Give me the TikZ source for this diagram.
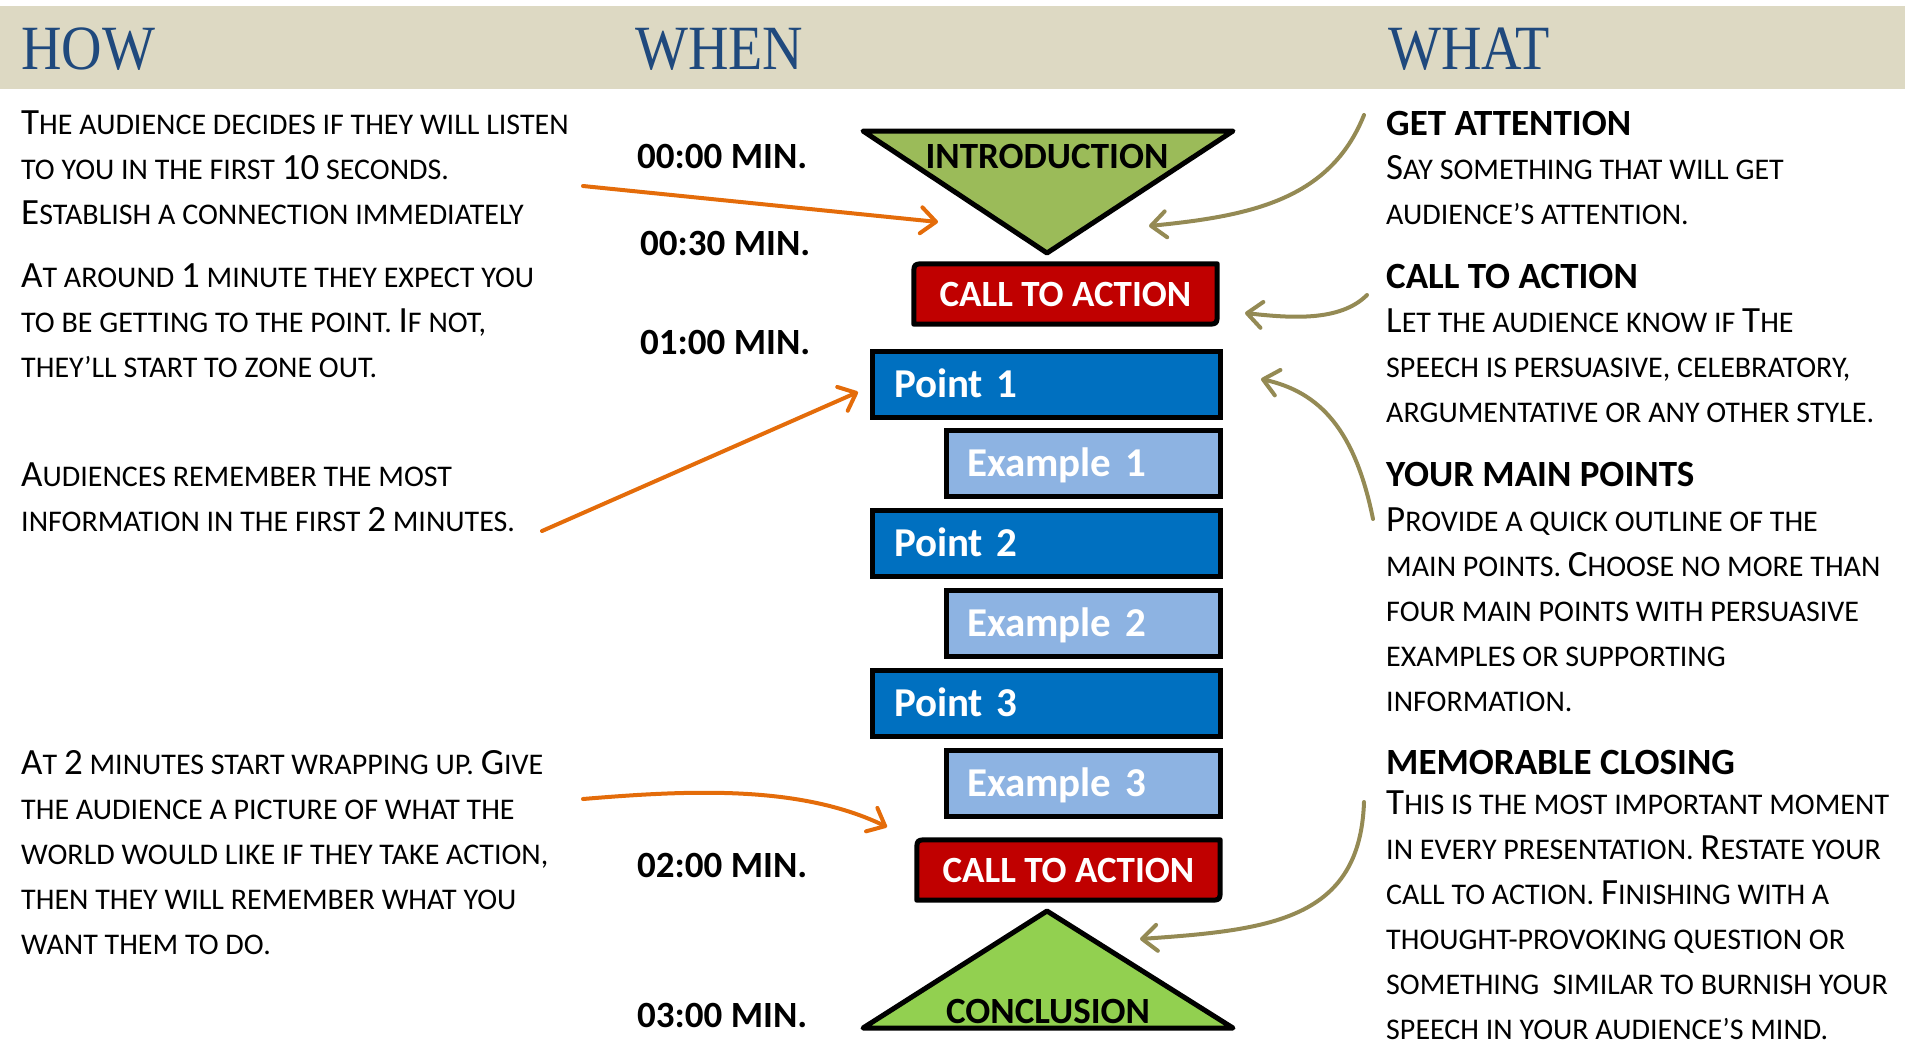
\documentclass[tikz,border=0pt]{standalone}
\usepackage{fontspec}
\setmainfont{Carlito}
\newfontfamily\headfont[FakeStretch=0.89]{Liberation Serif}
\usetikzlibrary{arrows.meta,backgrounds}
\definecolor{band}{HTML}{DDD9C3}
\definecolor{headblue}{HTML}{1F497D}
\definecolor{introgreen}{HTML}{9BBB59}
\definecolor{conclgreen}{HTML}{92D050}
\definecolor{ctared}{HTML}{C00000}
\definecolor{pointblue}{HTML}{0070C0}
\definecolor{exblue}{HTML}{8DB3E2}
\definecolor{arrorange}{HTML}{E46C0A}
\definecolor{arrolive}{HTML}{948A54}
\newcommand\sm[1]{{\fontsize{30}{45}\selectfont #1}}
\begin{document}
\begin{tikzpicture}[x=1pt,y=-1pt,
  head/.style={anchor=base west, inner sep=0pt, text=headblue, font=\headfont\fontsize{63}{70}\selectfont},
  body/.style={anchor=base west, inner sep=0pt, align=left, font=\fontsize{37}{45}\selectfont},
  bhead/.style={anchor=base west, inner sep=0pt, font=\bfseries\fontsize{37}{45}\selectfont},
  timelab/.style={anchor=base west, inner sep=0pt, font=\bfseries\fontsize{37}{45}\selectfont},
  shapeline/.style={draw=black, line width=5pt, line join=round},
  shapetext/.style={anchor=base, inner sep=0pt, font=\bfseries\fontsize{37}{45}\selectfont},
  ctabox/.style={draw=none, minimum width=303pt, minimum height=60pt, inner sep=0pt, text=white,
     text height=24pt, text depth=0pt, font=\bfseries\fontsize{37}{45}\selectfont},
  pointbox/.style={draw=black, line width=5pt, fill=pointblue, minimum height=66pt, text width=304pt,
     inner xsep=22pt, inner ysep=0pt, align=left, text=white, text height=26pt, text depth=0pt,
     font=\bfseries\fontsize{41}{45}\selectfont},
  exbox/.style={pointbox, fill=exblue, text width=232pt, inner xsep=21pt},
  orangearrow/.style={draw=arrorange, line width=4pt, line cap=round,
     -{Straight Barb[length=15pt,width=26pt,round]}},
  olivearrow/.style={draw=arrolive, line width=4pt, line cap=round,
     -{Straight Barb[length=15pt,width=26pt,round]}}
]
\useasboundingbox (0,0) rectangle (1905,1045);
\fill[band] (0,6) rectangle (1905,89);
\node[head] (hhow) at (21,69) {HOW};
\node[head] (hwhen) at (635,69) {WHEN};
\node[head] (hwhat) at (1388,69) {WHAT};

% left column (anchor = baseline of last line)
\node[body] (l1) at (21,224) {T\sm{HE AUDIENCE DECIDES IF THEY WILL LISTEN}\\
\sm{TO YOU IN THE FIRST }10\sm{ SECONDS.}\\
E\sm{STABLISH A CONNECTION IMMEDIATELY}};
\node[body] (l2) at (21,377) {A\sm{T AROUND }1\sm{ MINUTE THEY EXPECT YOU}\\
\sm{TO BE GETTING TO THE POINT. }I\sm{F NOT,}\\
\sm{THEY’LL START TO ZONE OUT.}};
\node[body] (l3) at (21,531) {A\sm{UDIENCES REMEMBER THE MOST}\\
\sm{INFORMATION IN THE FIRST }2\sm{ MINUTES.}};
\node[body] (l4) at (21,954) {A\sm{T }2\sm{ MINUTES START WRAPPING UP. }G\sm{IVE}\\
\sm{THE AUDIENCE A PICTURE OF WHAT THE}\\
\sm{WORLD WOULD LIKE IF THEY TAKE ACTION,}\\
\sm{THEN THEY WILL REMEMBER WHAT YOU}\\
\sm{WANT THEM TO DO.}};

% times
\node[timelab] (t1) at (637,168) {00:00 MIN.};
\node[timelab] (t2) at (640,255) {00:30 MIN.};
\node[timelab] (t3) at (640,354) {01:00 MIN.};
\node[timelab] (t4) at (637,877) {02:00 MIN.};
\node[timelab] (t5) at (637,1027) {03:00 MIN.};

% central shapes
\coordinate (i1) at (863,131);
\coordinate (i2) at (1233,131);
\coordinate (i3) at (1047,253);
\draw[shapeline, fill=introgreen] (i1) -- (i2) -- (i3) -- cycle;
\node[shapetext] (intro) at (1047,168) {INTRODUCTION};

\node[ctabox] (cta1) at (1065.5,294) {CALL TO ACTION};
\node[pointbox] (p1) at (1046,384) {Point 1};
\node[exbox] (e1) at (1083,463.5) {Example 1};
\node[pointbox] (p2) at (1046,543) {Point 2};
\node[exbox] (e2) at (1083,623) {Example 2};
\node[pointbox] (p3) at (1046,703.5) {Point 3};
\node[exbox] (e3) at (1083,783.5) {Example 3};
\node[ctabox] (cta2) at (1068.5,870) {CALL TO ACTION};
\begin{scope}[on background layer]
\foreach \c in {cta1,cta2}{
\draw[shapeline, fill=ctared] ([xshift=12pt]\c.north west) -- (\c.north east) -- ([yshift=12pt]\c.south east)
  .. controls (\c.south east) .. ([xshift=-12pt]\c.south east) -- (\c.south west)
  -- ([yshift=-12pt]\c.north west) .. controls (\c.north west) .. ([xshift=12pt]\c.north west) -- cycle;
}
\end{scope}

\coordinate (c1) at (1047,911);
\coordinate (c2) at (1233,1028);
\coordinate (c3) at (863,1028);
\draw[shapeline, fill=conclgreen] (c1) -- (c2) -- (c3) -- cycle;
\node[shapetext] (concl) at (1048,1023) {CONCLUSION};

% right column
\node[bhead] (r1h) at (1386,135) {GET ATTENTION};
\node[body] (r1) at (1386,224) {S\sm{AY SOMETHING THAT WILL GET}\\
\sm{AUDIENCE’S ATTENTION.}};
\node[bhead] (r2h) at (1386,288) {CALL TO ACTION};
\node[body] (r2) at (1386,422) {L\sm{ET THE AUDIENCE KNOW IF }T\sm{HE}\\
\sm{SPEECH IS PERSUASIVE, CELEBRATORY,}\\
\sm{ARGUMENTATIVE OR ANY OTHER STYLE.}};
\node[bhead] (r3h) at (1386,486) {YOUR MAIN POINTS};
\node[body] (r3) at (1386,711) {P\sm{ROVIDE A QUICK OUTLINE OF THE}\\
\sm{MAIN POINTS. }C\sm{HOOSE NO MORE THAN}\\
\sm{FOUR MAIN POINTS WITH PERSUASIVE}\\
\sm{EXAMPLES OR SUPPORTING}\\
\sm{INFORMATION.}};
\node[bhead] (r4h) at (1386,774) {MEMORABLE CLOSING};
\node[body] (r4) at (1386,1039) {T\sm{HIS IS THE MOST IMPORTANT MOMENT}\\
\sm{IN EVERY PRESENTATION. }R\sm{ESTATE YOUR}\\
\sm{CALL TO ACTION. }F\sm{INISHING WITH A}\\
\sm{THOUGHT-PROVOKING QUESTION OR}\\
\sm{SOMETHING\ \ SIMILAR TO BURNISH YOUR}\\
\sm{SPEECH IN YOUR AUDIENCE’S MIND.}};

% orange arrows
\coordinate (a1s) at (583,186);
\coordinate (a1e) at (938,222);
\coordinate (a2s) at (542,531);
\coordinate (a2e) at (858,392);
\coordinate (a3s) at (583,799);
\coordinate (a3e) at (887,827);
\draw[orangearrow] (a1s) -- (a1e);
\draw[orangearrow] (a2s) -- (a2e);
\draw[orangearrow] (a3s) .. controls (690,790) and (800,785) .. (a3e);

% olive arrows
\coordinate (b1s) at (1364,115);
\coordinate (b1e) at (1149,226);
\coordinate (b2s) at (1367,295);
\coordinate (b2e) at (1245,313);
\coordinate (b3s) at (1373,519);
\coordinate (b3e) at (1261,379);
\coordinate (b4s) at (1364,802);
\coordinate (b4e) at (1140,939);
\draw[olivearrow] (b1s) .. controls (1330,200) and (1250,216) .. (b1e);
\draw[olivearrow] (b2s) .. controls (1340,322) and (1290,318) .. (b2e);
\draw[olivearrow] (b3s) .. controls (1355,430) and (1320,392) .. (b3e);
\draw[olivearrow] (b4s) .. controls (1360,920) and (1270,930) .. (b4e);
\end{tikzpicture}
\end{document}
